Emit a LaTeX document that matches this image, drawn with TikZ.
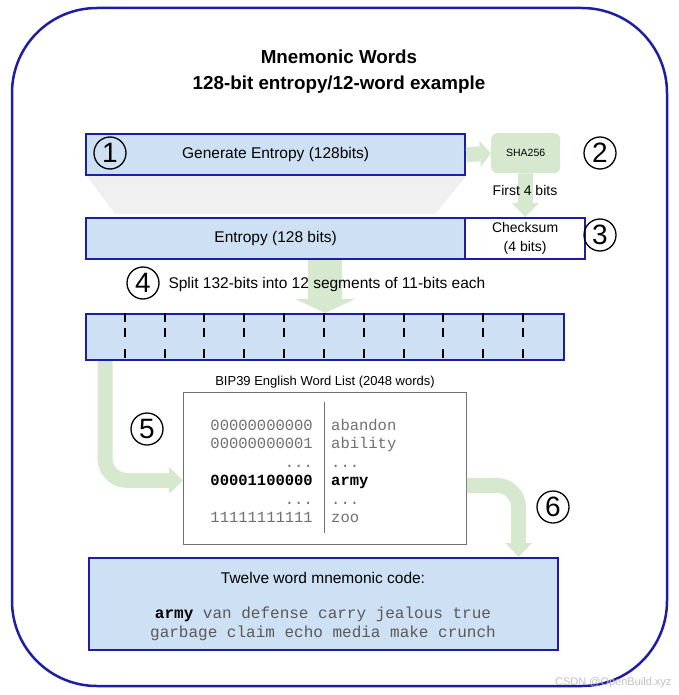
\documentclass[tikz,border=0pt]{standalone}
\usepackage{fontspec}
\setmainfont{Liberation Sans}
\setmonofont{Liberation Mono}
\usetikzlibrary{arrows.meta}
\definecolor{boxblue}{RGB}{206,224,243}
\definecolor{edgeblue}{RGB}{30,30,165}
\definecolor{flowgreen}{RGB}{214,233,206}
\definecolor{listgray}{RGB}{112,112,112}
\newcommand{\sz}[2]{\fontsize{#1}{#2}\selectfont}
\tikzstyle{box}=[draw=edgeblue, line width=2.2pt, fill=boxblue, inner sep=0pt, anchor=north west, align=center]
\tikzstyle{stepno}=[circle, draw, line width=1.3pt, inner sep=0pt, minimum size=32pt, font=\sz{28}{28}]
\tikzstyle{flow}=[draw=flowgreen, line width=15pt, -{Triangle[width=27pt,length=14pt,line width=0pt]}]
\tikzstyle{bits}=[anchor=base east, inner sep=0pt, text=listgray, font=\ttfamily\sz{15.5}{15.5}]
\tikzstyle{word}=[anchor=base west, inner sep=0pt, text=listgray, font=\ttfamily\sz{15.5}{15.5}]
\newcommand{\stepno}{\node[stepno]}

\begin{document}
\begin{tikzpicture}[x=1pt, y=-1pt]
\useasboundingbox (0,0) rectangle (678,695);
\draw[edgeblue, line width=2.5pt, rounded corners=85pt] (12,8) rectangle (667,686);
\node[font=\bfseries\sz{18.8}{26}, align=center] (title) at (339,72)
  {Mnemonic Words\\128-bit entropy/12-word example};

% boxes
\node[box, minimum width=379pt, minimum height=41pt, font=\sz{15.5}{15.5}] (gen) at (85,133) {Generate Entropy (128bits)};
\node[fill=flowgreen, rounded corners=6pt, anchor=north west, minimum width=69pt, minimum height=40pt, font=\sz{10.5}{10.5}] (sha) at (491,133) {SHA256};
\node[box, minimum width=379pt, minimum height=41pt, font=\sz{15.5}{15.5}] (ent) at (85,217) {Entropy (128 bits)};
\node[box, fill=white, minimum width=120pt, minimum height=41pt, font=\sz{14}{19}] (chk) at (464,217) {Checksum\\(4 bits)};
\node[box, minimum width=478pt, minimum height=46pt] (bar) at (85,313) {};
\node[draw=listgray, line width=0.8pt, anchor=north west, minimum width=283pt, minimum height=152pt] (lst) at (183,392) {};
\node[box, minimum width=469pt, minimum height=92pt] (code) at (88,557) {};

% funnel and dividers
\fill[black!6] ([xshift=2pt]gen.south west) -- (gen.south east)
  -- ([xshift=-31pt,yshift=3pt]ent.north east) -- ([xshift=30pt,yshift=3pt]ent.north west) -- cycle;
\foreach \i in {1,...,11}
  \draw[line width=2pt] ({round(85+\i*39.83)},313) -- +(0,9) ({round(85+\i*39.83)},328) -- +(0,9)
    ({round(85+\i*39.83)},349) -- +(0,9);
\draw[listgray, line width=1pt] (324,402) -- (324,533);

% arrows
\draw[flow, -{Triangle[width=26pt,length=11pt,line width=0pt]}] (gen.east) -- (sha.west);
\draw[flow] (sha.south) -- (chk.north);
\draw[flow, line width=34pt, -{Triangle[width=60pt,length=14pt,line width=0pt]}] (ent.south -| bar.north) -- (bar.north);
\draw[flow, rounded corners=22pt] ([xshift=20pt]bar.south west) |- ([yshift=-12pt]lst.west);
\draw[flow, rounded corners=22pt] ([yshift=-17pt]lst.east) -| ([xshift=195pt]code.north);

% labels
\node[font=\sz{14}{14}] (first) at (525,190) {First 4 bits};
\node[anchor=west, font=\sz{15.5}{15.5}] (split) at (165,284) {Split 132-bits into 12 segments of 11-bits each};
\node[font=\sz{13}{13}] (bip) at (325,382) {BIP39 English Word List (2048 words)};
\stepno (s1) at (110,153) {1};
\stepno (s2) at (600,153) {2};
\stepno (s3) at (600,235) {3};
\stepno (s4) at (143,283) {4};
\stepno (s5) at (147,429) {5};
\stepno (s6) at (553,507) {6};

% word list
\node[bits] (b1) at (313,430) {00000000000};
\node[word] (w1) at (331,430) {abandon};
\node[bits] (b2) at (313,448.5) {00000000001};
\node[word] (w2) at (331,448.5) {ability};
\node[bits] (b3) at (313,467) {...};
\node[word] (w3) at (331,467) {...};
\node[bits, text=black, font=\ttfamily\bfseries\sz{15.5}{15.5}] (b4) at (313,485.5) {00001100000};
\node[word, text=black, font=\ttfamily\bfseries\sz{15.5}{15.5}] (w4) at (331,485.5) {army};
\node[bits] (b5) at (313,504) {...};
\node[word] (w5) at (331,504) {...};
\node[bits] (b6) at (313,522.5) {11111111111};
\node[word] (w6) at (331,522.5) {zoo};

% mnemonic code
\node[font=\sz{15.5}{15.5}] (twelve) at (323,578) {Twelve word mnemonic code:};
\node[align=center, text=black!65, font=\ttfamily\sz{16}{19}] (words) at (323,624)
  {\textcolor{black}{\bfseries army} van defense carry jealous true\\garbage claim echo media make crunch};
\node[anchor=east, text=black!25, font=\sz{11}{11}] (wm) at (675,683) {CSDN @OpenBuild.xyz};
\end{tikzpicture}
\end{document}
